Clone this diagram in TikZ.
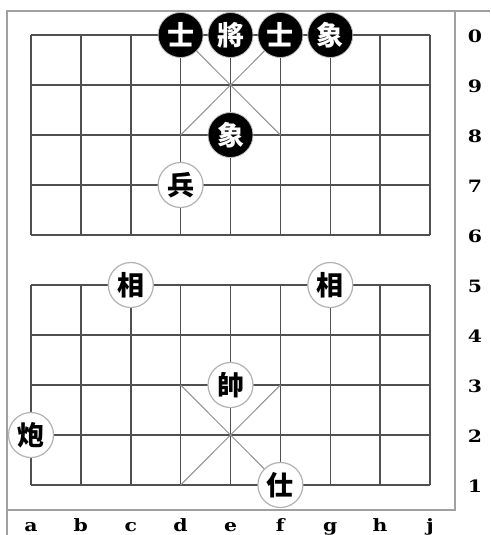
\documentclass[tikz,border=0pt]{standalone}
\usepackage{fontspec}
\newfontfamily\cjk{Noto Sans CJK TC}
\newfontfamily\labfont{DejaVu Serif}
\definecolor{gridc}{HTML}{505050}
\definecolor{framec}{HTML}{A0A0A0}
\definecolor{palc}{HTML}{909090}
\tikzset{
  gridline/.style={gridc, line width=1.5pt},
  frameline/.style={framec, line width=1.8pt},
  palace/.style={palc, line width=1pt},
  blackpiece/.style={circle, fill=black, draw=gray!50, line width=0.8pt, minimum size=45pt, inner sep=0pt, text=white, font=\cjk\bfseries\fontsize{27}{27}\selectfont},
  whitepiece/.style={circle, fill=white, draw=gray!60, line width=1.2pt, minimum size=45pt, inner sep=0pt, text=black, font=\cjk\bfseries\fontsize{27}{27}\selectfont},
  coordlab/.style={font=\labfont\bfseries\fontsize{17}{17}\selectfont, inner sep=0pt, xscale=1.2}
}
\begin{document}
\begin{tikzpicture}[x=1pt,y=-1pt]
\useasboundingbox (0,0) rectangle (490,535);
\fill[white] (0,0) rectangle (490,535);
% frame
\draw[frameline] (7,535) -- (7,11) -- (490,11);
\draw[frameline] (455,11) -- (455,510) -- (7,510);
% grid
\foreach \k in {0,...,4} {
  \pgfmathsetmacro{\yy}{35+50*\k}
  \draw[gridline] (31,\yy) -- (430,\yy);
}
\foreach \k in {5,...,9} {
  \pgfmathsetmacro{\yy}{35+50*\k}
  \draw[gridline] (31,\yy) -- (430,\yy);
}
\foreach \i in {0,...,8} {
  \pgfmathsetmacro{\xx}{31+49.875*\i}
  \draw[gridline] (\xx,35) -- (\xx,235);
  \draw[gridline] (\xx,285) -- (\xx,485);
}
% palaces
\draw[palace] (180.6,35) -- (280.4,135);
\draw[palace] (280.4,35) -- (180.6,135);
\draw[palace] (180.6,385) -- (280.4,485);
\draw[palace] (280.4,385) -- (180.6,485);
% black pieces
\node[blackpiece] (bd0) at (180.6,35) {士};
\node[blackpiece] (be0) at (230.5,35) {將};
\node[blackpiece] (bf0) at (280.4,35) {士};
\node[blackpiece] (bg0) at (330.3,35) {象};
\node[blackpiece] (be8) at (230.5,135) {象};
% red pieces
\node[whitepiece] (rd7) at (180.6,185) {兵};
\node[whitepiece] (rc5) at (130.8,285) {相};
\node[whitepiece] (rg5) at (330.3,285) {相};
\node[whitepiece] (re3) at (230.5,385) {帥};
\node[whitepiece] (ra2) at (31,435) {炮};
\node[whitepiece] (rf1) at (280.4,485) {仕};
% rank labels
\foreach \n [count=\k from 0] in {0,9,8,7,6,5,4,3,2,1} {
  \node[coordlab] (rank\n) at (475,36+50*\k) {\n};
}
% file labels
\foreach \f [count=\i from 0] in {a,b,c,d,e,f,g,h,j} {
  \node[coordlab, anchor=base] (file\f) at (31+49.875*\i,531) {\f};
}
\end{tikzpicture}
\end{document}
